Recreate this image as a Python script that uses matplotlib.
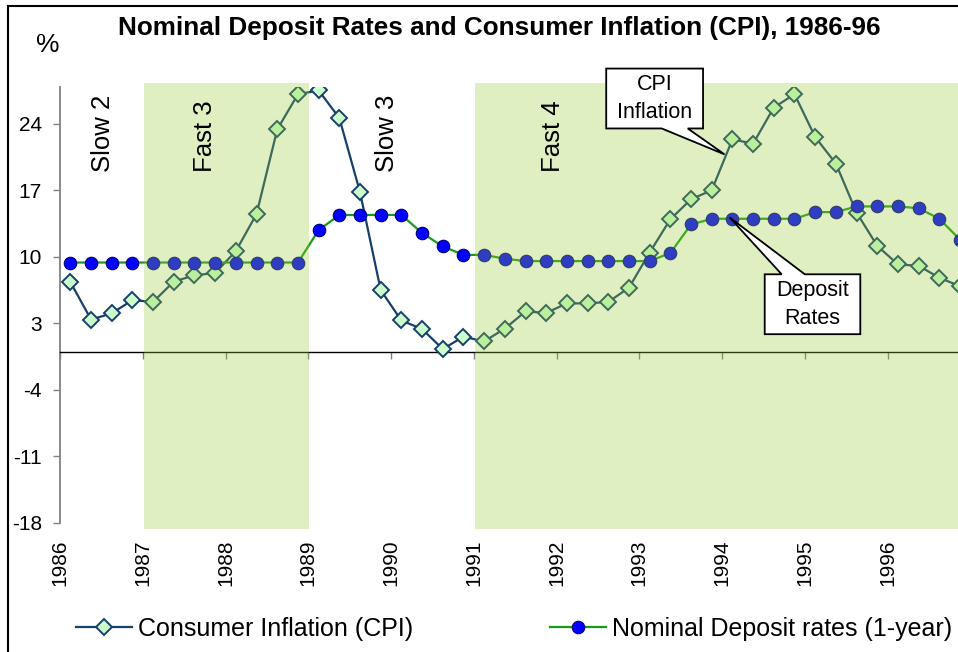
import numpy as np
import matplotlib.pyplot as plt
from matplotlib.patches import Rectangle, Polygon

plt.rcParams['font.family'] = ['Liberation Sans', 'DejaVu Sans']
plt.rcParams['axes.unicode_minus'] = False

# Data (quarterly, 1986Q1 - 1996Q4)
periods = [f"{y}Q{q}" for y in range(1986, 1997) for q in range(1, 5)]
years = [str(y) for y in range(1986, 1997)]
cpi = [7.35, 3.4, 4.05, 5.45, 5.25, 7.4, 8.05, 8.3,
       10.6, 14.5, 23.4, 27.1, 27.5, 24.6, 16.8, 6.5,
       3.3, 2.4, 0.3, 1.6, 1.1, 2.45, 4.25, 4.1,
       5.1, 5.1, 5.25, 6.75, 10.45, 13.95, 16.05, 17.0,
       22.35, 21.9, 25.7, 27.1, 22.6, 19.8, 14.65, 11.15,
       9.2, 9.05, 7.8, 6.9]
deposit = [9.4, 9.4, 9.4, 9.4, 9.4, 9.4, 9.4, 9.4,
           9.4, 9.4, 9.4, 9.4, 12.8, 14.4, 14.4, 14.4,
           14.4, 12.5, 11.1, 10.2, 10.2, 9.8, 9.55, 9.55,
           9.55, 9.55, 9.55, 9.55, 9.55, 10.4, 13.4, 14.0,
           14.0, 14.0, 14.0, 14.0, 14.7, 14.7, 15.3, 15.3,
           15.3, 15.1, 14.0, 11.8]
# growth phases: label, start quarter index, end quarter index, shaded
phases = ["Slow 2", "Fast 3", "Slow 3", "Fast 4"]
phase_start = [0, 4, 12, 20]
phase_end = [4, 12, 20, 44]
phase_shaded = [False, True, False, True]

x = np.arange(len(periods))

W, H = 958, 652
fig = plt.figure(figsize=(W / 100, H / 100), dpi=100)
px = 20.69  # pixels per quarter
ax = fig.add_axes([60 / W, 1 - 523 / H, 44 * px / W, (523 - 87) / H])
ax.set_xlim(-0.5, 43.5)
ax.set_ylim(-18, 27.86)

ax.plot(x, cpi, color='#15406A', lw=1.6, marker='D', ms=8.5,
        mfc='#CCFFCC', mec='#15406A', mew=1.4, zorder=3,
        label='Consumer Inflation (CPI)')
ax.plot(x, deposit, color='#1A9A1A', lw=1.6, marker='o', ms=9,
        mfc='#0000FF', mec='#00007A', mew=0.8, zorder=4,
        label='Nominal Deposit rates (1-year)')

# shaded phases drawn over the series, like the original
for name, s, e, sh in zip(phases, phase_start, phase_end, phase_shaded):
    if sh:
        ax.add_patch(Rectangle((s - 0.45, -18.6), e - s, 46.9, facecolor='#9ACD32',
                               alpha=0.3, lw=0, zorder=5, clip_on=False))
label_x = [1.6, 6.5, 15.3, 23.34]
for name, lx in zip(phases, label_x):
    ax.text(lx, 18.9, name, rotation=90, ha='center', va='bottom',
            fontsize=18.5, zorder=8)

# axes styling
for s in ['top', 'right']:
    ax.spines[s].set_visible(False)
ax.spines['left'].set_color('#808080')
ax.spines['left'].set_linewidth(1.3)
ax.spines['bottom'].set_position(('data', 0))
ax.spines['bottom'].set_color('black')
ax.spines['bottom'].set_linewidth(1.0)
ax.set_yticks(range(-18, 25, 7))
ax.tick_params(axis='y', direction='out', length=5, width=1, color='#808080',
               labelsize=15, pad=8)
year_ticks = [4 * i - 0.5 for i in range(len(years))]
ax.set_xticks(year_ticks)
ax.tick_params(axis='x', direction='out', length=5, width=1, color='#808080',
               labelbottom=False)
sec = ax.secondary_xaxis('bottom')
sec.set_xticks(year_ticks, labels=years, rotation=90)
sec.tick_params(length=0, pad=12, labelsize=15)
sec.spines['bottom'].set_visible(False)

# callouts
def callout(box, base, tip, top, text):
    x0, x1, yb, yt = box
    if top:
        pts = [(x0, yt), (base[0], yt), tip, (base[1], yt), (x1, yt), (x1, yb), (x0, yb)]
    else:
        pts = [(x0, yt), (x1, yt), (x1, yb), (base[1], yb), tip, (base[0], yb), (x0, yb)]
    ax.add_patch(Polygon(pts, closed=True, facecolor='white', edgecolor='black',
                         lw=1.3, zorder=10, clip_on=False))
    ax.text((x0 + x1) / 2, (yb + yt) / 2, text, ha='center', va='center',
            fontsize=15.5, linespacing=1.45, zorder=11)

callout((25.9, 30.58, 23.5, 29.8), (28.58, 29.84), (31.62, 20.77), False, 'CPI\nInflation')
callout((33.56, 38.18, 1.86, 8.16), (34.38, 35.5), (31.86, 14.15), True, 'Deposit\nRates')

fig.text(499 / W, 1 - 28 / H, 'Nominal Deposit Rates and Consumer Inflation (CPI), 1986-96',
         ha='center', va='center', fontsize=18.8, fontweight='bold')
fig.text(48 / W, 1 - 45 / H, '%', ha='center', va='center', fontsize=19)

fig.legend(loc='center left', bbox_to_anchor=(76 / W, 1 - 629 / H), ncol=2,
           frameon=False, fontsize=18, handlelength=2.25, handletextpad=0.24,
           columnspacing=5.45, borderpad=0, borderaxespad=0)

# chart border (cropped on the right and bottom)
fig.add_artist(Rectangle((7.5 / W, -0.5), 2, 1.5 - 6 / H, fill=False,
                         edgecolor='black', lw=1.5, transform=fig.transFigure))

fig.savefig('out.png', dpi=100)
